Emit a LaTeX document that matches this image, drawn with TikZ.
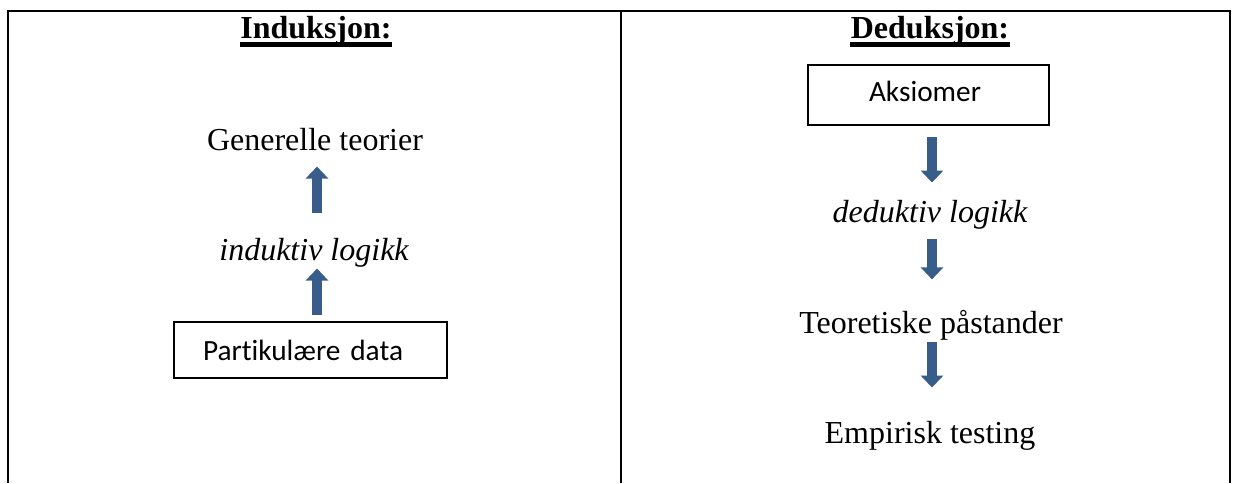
\documentclass[tikz,border=0pt]{standalone}
\usepackage{fontspec}
\setmainfont{Liberation Serif}
\newfontfamily\calibri[Ligatures=NoCommon]{Carlito}
\usetikzlibrary{arrows.meta}
\definecolor{arrowblue}{RGB}{56,93,138}
\begin{document}
\begin{tikzpicture}[x=0.375pt,y=-0.375pt,
  grid/.style={line width=1.1pt},
  heading/.style={font=\fontsize{12}{14}\selectfont\bfseries, inner sep=0pt, anchor=base},
  uline/.style={line width=1.6pt},
  txt/.style={font=\fontsize{12}{14}\selectfont, inner sep=0pt, text height=9pt, text depth=3pt, anchor=base},
  itxt/.style={txt, font=\fontsize{12}{14}\selectfont\itshape},
  databox/.style={draw, line width=0.7pt, font=\calibri\fontsize{11}{13}\selectfont, align=left, inner ysep=0pt},
  barrow/.style={draw=arrowblue, line width=3.75pt, -{Triangle[width=8.25pt,length=4.5pt]}}
]
\useasboundingbox (0,0) rectangle (1233,483);
% table
\draw[grid] (8,483) -- (8,11) -- (1230,11) -- (1230,483);
\draw[grid] (621,11) -- (621,483);
% headings
\node[heading] (h1) at (316,38) {Induksjon:};
\node[heading] (h2) at (930,38) {Deduksjon:};
\draw[uline] ([yshift=-2.4pt]h1.base west) -- ([yshift=-2.4pt]h1.base east);
\draw[uline] ([yshift=-2.4pt]h2.base west) -- ([yshift=-2.4pt]h2.base east);
% left column
\node[txt] (gen) at (315,150) {Generelle teorier};
\node[itxt] (ind) at (314,260) {induktiv logikk};
\node[databox, anchor=west, inner xsep=10.9pt, text width=80.6pt, minimum height=21pt, text height=8pt, text depth=0.5pt] (part) at (173,350) {Partikulære data};
\coordinate (axl) at (317,0);
\draw[barrow, shorten <=8.6pt, shorten >=3pt] (ind.north -| axl) -- (gen.south -| axl);
\draw[barrow, shorten <=2.25pt] (part.north -| axl) -- (ind.south -| axl);
% right column
\node[databox, anchor=west, inner xsep=22.9pt, text width=44.6pt, minimum height=22.5pt, text height=7pt, text depth=2.5pt] (aks) at (807,95) {Aksiomer};
\node[itxt] (ded) at (930,222) {deduktiv logikk};
\node[txt] (teo) at (931,333) {Teoretiske påstander};
\node[txt] (emp) at (930,443) {Empirisk testing};
\coordinate (axr) at (932,0);
\draw[barrow, shorten <=4.1pt, shorten >=5.6pt] (aks.south -| axr) -- (ded.north -| axr);
\draw[barrow, shorten <=3pt, shorten >=10.9pt] (ded.south -| axr) -- (teo.north -| axr);
\draw[barrow, shorten >=11.6pt] (teo.south -| axr) -- (emp.north -| axr);
\end{tikzpicture}
\end{document}
